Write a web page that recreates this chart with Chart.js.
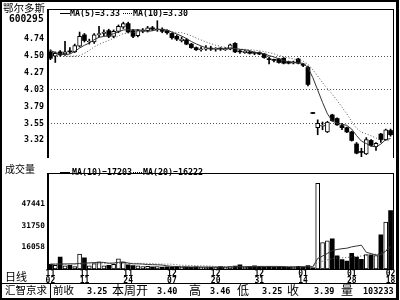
<!DOCTYPE html>
<html><head><meta charset="utf-8">
<script src="https://cdn.jsdelivr.net/npm/chart.js@4"></script>
<style>
html,body{margin:0;padding:0;background:#fff;}
#wrap{position:relative;width:400px;height:300px;overflow:hidden;background:#fff;}
canvas{position:absolute;left:0;}
#pc{top:0;}
#vc{top:165px;}
.t{position:absolute;white-space:nowrap;color:#000;}
.cjk{font-family:"Noto Sans CJK SC",sans-serif;line-height:1;}
.mono{font-family:"DejaVu Sans Mono",monospace;font-weight:bold;line-height:10px;}
.ln{position:absolute;background:#000;}
.dot{position:absolute;border-top:1px dotted #000;height:0;}
</style></head>
<body><div id="wrap">
<canvas id="pc" width="400" height="166"></canvas>
<canvas id="vc" width="400" height="120"></canvas>

<div style="position:absolute;left:0;top:0;width:399px;height:300px;box-sizing:border-box;border:2px solid #000;border-right-width:3px;"></div>
<div class="ln" style="left:0;top:283px;width:398px;height:1px;"></div>
<div class="ln" style="left:50px;top:283px;width:1px;height:15px;"></div>

<div class="t cjk" style="left:3px;top:3px;font-size:10.5px;">鄂尔多斯</div>
<div class="t mono" style="left:9px;top:14px;font-size:9.6px;">600295</div>

<div class="ln" style="left:60px;top:13px;width:10px;height:1px;"></div>
<div class="t mono" style="left:70px;top:8px;font-size:8.3px;">MA(5)=3.33</div>
<div class="dot" style="left:123px;top:13px;width:9px;"></div>
<div class="t mono" style="left:133px;top:8px;font-size:8.3px;">MA(10)=3.30</div>

<div class="t cjk" style="left:5px;top:164px;font-size:10px;">成交量</div>
<div class="ln" style="left:60px;top:172px;width:10px;height:1px;"></div>
<div class="t mono" style="left:72px;top:167px;font-size:8.3px;">MA(10)=17203</div>
<div class="dot" style="left:133px;top:172px;width:9px;"></div>
<div class="t mono" style="left:143px;top:167px;font-size:8.3px;">MA(20)=16222</div>

<div class="t cjk" style="left:5px;top:271px;font-size:11px;">日线</div>

<div class="t cjk" style="left:5px;top:285px;font-size:10.5px;">汇智京求</div>
<div class="t cjk" style="left:53px;top:285px;font-size:10.5px;">前收</div>
<div class="t mono" style="left:87px;top:286px;font-size:8.5px;">3.25</div>
<div class="t cjk" style="left:112px;top:284px;font-size:12px;">本周开</div>
<div class="t mono" style="left:157px;top:286px;font-size:8.5px;">3.40</div>
<div class="t cjk" style="left:189px;top:284px;font-size:12px;">高</div>
<div class="t mono" style="left:210px;top:286px;font-size:8.5px;">3.46</div>
<div class="t cjk" style="left:237px;top:284px;font-size:12px;">低</div>
<div class="t mono" style="left:262px;top:286px;font-size:8.5px;">3.25</div>
<div class="t cjk" style="left:287px;top:284px;font-size:12px;">收</div>
<div class="t mono" style="left:314px;top:286px;font-size:8.5px;">3.39</div>
<div class="t cjk" style="left:341px;top:284px;font-size:12px;">量</div>
<div class="t mono" style="left:363px;top:286px;font-size:8.5px;">103233</div>
</div>
<script>
const dates = ['11/02','11/03','11/04','11/05','11/08','11/09','11/10','11/11',
'11/12','11/15','11/16','11/17','11/18','11/19','11/22','11/23','11/24',
'11/25','11/26','11/29','11/30','12/01','12/02','12/03','12/06','12/07',
'12/08','12/09','12/10','12/13','12/14','12/15','12/16','12/17','12/20',
'12/21','12/22','12/23','12/24','12/27','12/28','12/29','12/30','12/31',
'01/04','01/05','01/06','01/07','01/10','01/11','01/12','01/13','01/14',
'01/17','01/18','01/19','01/20','01/21','01/24','01/25','01/26','01/27','01/28',
'01/31','02/01','02/02','02/14','02/15','02/16','02/17','02/18'];
const tickDates = ['11/02','11/11','11/24','12/07','12/20','12/31','01/14','01/28','02/18'];

const opens = [4.56,4.50,4.56,4.53,4.57,4.56,4.64,4.80,4.70,4.70,
4.80,4.82,4.86,4.78,4.85,4.91,4.96,4.86,4.79,4.85,
4.86,4.90,4.87,4.88,4.86,4.82,4.78,4.72,4.73,4.67,
4.62,4.59,4.60,4.61,4.60,4.61,4.59,4.60,4.68,4.57,
4.55,4.56,4.55,4.55,4.53,4.45,4.44,4.46,4.47,4.42,
4.40,4.46,4.39,4.34,3.69,3.49,3.51,3.43,3.67,3.62,
3.52,3.49,3.43,3.26,3.14,3.12,3.31,3.22,3.40,3.32,3.45];
const highs = [4.59,4.56,4.58,4.71,4.62,4.67,4.84,4.82,4.74,4.82,
4.92,4.87,4.88,4.87,4.94,4.98,4.98,4.88,4.88,4.89,
4.92,4.92,5.00,4.90,4.87,4.83,4.80,4.77,4.75,4.68,
4.63,4.63,4.65,4.64,4.62,4.62,4.62,4.67,4.69,4.59,
4.58,4.57,4.56,4.56,4.54,4.49,4.46,4.47,4.48,4.43,
4.43,4.47,4.40,4.36,3.69,3.60,3.57,3.58,3.68,3.63,
3.55,3.50,3.44,3.28,3.20,3.35,3.32,3.28,3.41,3.47,3.47];
const lows = [4.45,4.41,4.50,4.51,4.54,4.55,4.63,4.70,4.67,4.68,
4.77,4.79,4.76,4.76,4.83,4.89,4.83,4.76,4.77,4.83,
4.84,4.86,4.85,4.83,4.81,4.74,4.72,4.70,4.66,4.61,
4.58,4.57,4.58,4.58,4.57,4.58,4.58,4.59,4.55,4.54,
4.54,4.53,4.52,4.52,4.47,4.39,4.42,4.40,4.39,4.39,
4.39,4.39,4.35,4.08,3.69,3.39,3.46,3.42,3.58,3.52,
3.46,3.42,3.30,3.12,3.08,3.11,3.23,3.17,3.28,3.31,3.37];
const closes = [4.47,4.54,4.52,4.56,4.56,4.65,4.78,4.72,4.71,4.80,
4.82,4.84,4.78,4.85,4.92,4.96,4.84,4.78,4.86,4.87,
4.90,4.88,4.88,4.85,4.83,4.76,4.74,4.74,4.67,4.62,
4.59,4.60,4.61,4.60,4.61,4.60,4.60,4.66,4.56,4.56,
4.57,4.54,4.54,4.53,4.48,4.45,4.44,4.41,4.40,4.40,
4.42,4.40,4.37,4.10,3.69,3.55,3.52,3.57,3.59,3.53,
3.49,3.43,3.31,3.13,3.14,3.32,3.24,3.27,3.32,3.46,3.39];
const ma5 = [4.58,4.55,4.53,4.52,4.53,4.566,4.614,4.654,4.684,4.732,
4.766,4.778,4.79,4.818,4.842,4.87,4.87,4.87,4.872,4.862,
4.85,4.858,4.878,4.876,4.868,4.84,4.812,4.784,4.748,4.706,
4.672,4.644,4.618,4.604,4.602,4.604,4.604,4.614,4.606,4.596,
4.59,4.578,4.554,4.548,4.532,4.508,4.488,4.462,4.436,4.42,
4.414,4.406,4.398,4.338,4.196,4.022,3.846,3.686,3.584,3.552,
3.54,3.522,3.47,3.378,3.30,3.266,3.228,3.22,3.258,3.322,3.336];
const ma10 = [4.58,4.54,4.51,4.50,4.50,4.50,4.51,4.54,4.58,4.631,
4.666,4.696,4.722,4.751,4.787,4.818,4.824,4.83,4.845,4.852,
4.86,4.864,4.874,4.874,4.865,4.845,4.835,4.831,4.812,4.787,
4.756,4.728,4.701,4.676,4.654,4.638,4.624,4.616,4.605,4.599,
4.597,4.591,4.584,4.577,4.564,4.549,4.533,4.508,4.492,4.476,
4.461,4.447,4.43,4.387,4.308,4.218,4.126,4.042,3.961,3.874,
3.781,3.684,3.578,3.481,3.426,3.403,3.375,3.345,3.318,3.311,3.301];
const vols = [3400,2750,8700,2300,2750,1830,11000,8300,2300,3900,
5260,2300,2750,3430,7550,5040,2980,2500,2300,1800,
2000,1600,1800,1400,1600,1400,1800,1200,1500,1300,
1600,1200,1500,1300,1400,1800,1400,1800,2200,3000,
1500,1800,2300,1800,1400,1800,1300,1600,1400,1200,
1500,2000,1600,2600,900,62970,19500,20670,22250,9680,
6930,5770,11470,8720,7140,10570,10370,9900,25200,34400,42850];
const volMa10 = [3600,3600,3700,3700,3800,3800,4100,4300,4500,4723,
4909,4864,4269,4382,4862,5183,4381,3801,3801,3591,
3265,3195,3100,2897,2302,1938,1820,1690,1610,1560,
1520,1480,1450,1440,1420,1460,1420,1480,1550,1720,
1710,1770,1850,1900,1900,1900,1890,1870,1790,1610,
1610,1630,1560,1640,1590,7707,9527,11434,13519,14367,
14910,15287,16274,16886,17510,12270,11357,10280,10575,13047,16639];
const volMa20 = [3500,3500,3550,3550,3600,3600,3650,3700,3750,3800,
3850,3900,3950,4000,4050,4100,4150,4200,4200,4157,
4087,4030,3685,3640,3582,3561,3101,2746,2706,2576,
2393,2338,2275,2169,1861,1699,1620,1585,1580,1640,
1615,1625,1650,1670,1660,1680,1655,1675,1670,1665,
1660,1700,1705,1770,1745,4804,5709,6652,7655,7989,
8260,8459,8917,9263,9550,9989,10442,10857,12047,13707,15775];
const priceTickLabels = ['3.32','3.55','3.79','4.03','4.27','4.50','4.74'];
const volTickLabels = ['16058','31750','47441'];

const isUp = i => closes[i] > opens[i];
const fillFor = ctx => isUp(ctx.dataIndex) ? '#ffffff' : '#000000';
const borderFor = ctx => isUp(ctx.dataIndex) ? 1 : 0;
const bodyData = opens.map((o, i) => [o, closes[i]]);
const wickData = lows.map((l, i) => [l, highs[i]]);
const monoFont = (size) => ({family: '"DejaVu Sans Mono", monospace', weight: 'bold', size: size});

function makeFrame(drawBottom) {
  return {
    id: 'frame',
    afterDraw(chart) {
      const {ctx, chartArea: a} = chart;
      const L = Math.round(a.left), R = Math.round(a.right), T = Math.round(a.top), B = Math.round(a.bottom);
      ctx.save();
      ctx.fillStyle = '#000';
      ctx.fillRect(L - 1, T, 2, B - T + 1);
      ctx.fillRect(L - 1, T, R - L + 2, 1);
      ctx.fillRect(R, T, 1, B - T + 1);
      if (drawBottom) ctx.fillRect(L - 1, B, R - L + 2, 1);
      ctx.restore();
    }
  };
}

new Chart(document.getElementById('pc'), {
  type: 'bar',
  data: {
    labels: dates,
    datasets: [
      {type: 'line', data: ma5, borderColor: '#333', borderWidth: 1, pointRadius: 0, tension: 0, order: 0},
      {type: 'line', data: ma10, borderColor: '#555', borderWidth: 1, borderDash: [1, 2], pointRadius: 0, tension: 0, order: 1},
      {data: bodyData, backgroundColor: fillFor, borderColor: '#000', borderWidth: borderFor, borderSkipped: false,
       barThickness: 4, grouped: false, minBarLength: 1, order: 2},
      {data: wickData, backgroundColor: '#000', borderWidth: 0, barThickness: 1, grouped: false, minBarLength: 1, order: 3}
    ]
  },
  options: {
    responsive: false, animation: false, devicePixelRatio: 1,
    layout: {padding: {left: 0, right: 7, top: 3, bottom: 1}},
    plugins: {legend: {display: false}, tooltip: {enabled: false}},
    scales: {
      x: {display: false, offset: true},
      y: {
        min: 3.0755, max: 5.1658,
        afterFit: s => { s.width = 48; },
        afterBuildTicks: s => { s.ticks = priceTickLabels.map(t => ({value: parseFloat(t)})); },
        ticks: {callback: v => v.toFixed(2), color: '#000', font: monoFont(8.3), padding: 4},
        grid: {drawTicks: false, lineWidth: 1, color: c => (c.index % 2 === 1 ? '#555' : 'rgba(0,0,0,0)')},
        border: {display: false, dash: [1, 2]}
      }
    }
  },
  plugins: [makeFrame(false)]
});

new Chart(document.getElementById('vc'), {
  type: 'bar',
  data: {
    labels: dates,
    datasets: [
      {type: 'line', data: volMa10, borderColor: '#333', borderWidth: 1, pointRadius: 0, tension: 0, order: 0},
      {type: 'line', data: volMa20, borderColor: '#555', borderWidth: 1, borderDash: [1, 2], pointRadius: 0, tension: 0, order: 1},
      {data: vols, backgroundColor: fillFor, borderColor: '#000', borderWidth: borderFor, borderSkipped: false,
       barThickness: 4, order: 2}
    ]
  },
  options: {
    responsive: false, animation: false, devicePixelRatio: 1,
    layout: {padding: {left: 0, right: 7, top: 0, bottom: 0}},
    plugins: {legend: {display: false}, tooltip: {enabled: false}},
    scales: {
      x: {
        offset: true,
        afterFit: s => { s.height = 16; },
        afterBuildTicks: s => { s.ticks = s.ticks.filter(t => tickDates.includes(dates[t.value])); },
        ticks: {autoSkip: false, maxRotation: 0, minRotation: 0, padding: 1, color: '#000',
                font: Object.assign(monoFont(8), {lineHeight: 0.9}),
                callback: v => dates[v].split('/')},
        grid: {display: false, drawTicks: false},
        border: {display: false}
      },
      y: {
        min: 0, max: 70800,
        afterFit: s => { s.width = 48; },
        afterBuildTicks: s => { s.ticks = volTickLabels.map(t => ({value: parseInt(t, 10)})); },
        ticks: {callback: v => String(v), color: '#000', font: monoFont(7.8), padding: 3},
        grid: {display: false, drawTicks: false},
        border: {display: false}
      }
    }
  },
  plugins: [makeFrame(true)]
});
</script>
</body></html>
